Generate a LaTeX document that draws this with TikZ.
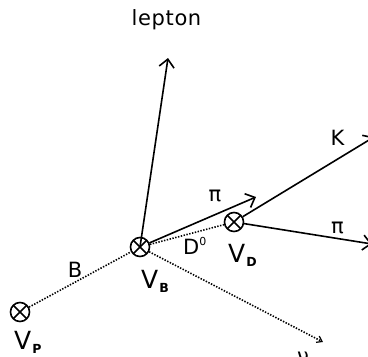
\documentclass[tikz,border=0pt]{standalone}
\usepackage{fontspec}
\setmainfont{DejaVu Sans}[LetterSpace=3]
\usetikzlibrary{arrows.meta}
\newcommand\vlab[1]{{\fontsize{25}{28}\selectfont V}\kern1pt\raisebox{-4pt}{\fontsize{12.5}{14}\selectfont\bfseries #1}}
\tikzset{
  vtx/.style={circle, draw, line width=1.6pt, minimum size=19pt, inner sep=0pt,
    path picture={\draw[line width=1.6pt] (path picture bounding box.north west) -- (path picture bounding box.south east)
      (path picture bounding box.north east) -- (path picture bounding box.south west);}},
  track/.style={line width=1.6pt, -{Straight Barb[length=8pt,width=15pt,line width=1.6pt]}},
  flight/.style={line width=1.6pt, dash pattern=on 1.4pt off 1.5pt},
  lab/.style={font=\fontsize{21}{24}\selectfont, inner sep=0pt, anchor=base},
  vl/.style={inner sep=0pt, anchor=base west}
}
\begin{document}
\begin{tikzpicture}[x=1pt,y=-1pt]
\useasboundingbox (0,0) rectangle (368,357);
\clip (0,0) rectangle (368,357);
% vertices
\node[vtx] (VP) at (20,312) {};
\node[vtx] (VB) at (140,247) {};
\node[vtx] (VD) at (234,222) {};
% free ends
\coordinate (lep) at (168,58);
\coordinate (pi1) at (256,197);
\coordinate (Kend) at (374,137);
\coordinate (pi2) at (372,244);
\coordinate (nu) at (323,342);
% flight paths
\draw[flight] (VP) -- (VB);
\draw[flight] (VB) -- (VD);
\draw[flight, -{Straight Barb[length=5pt,width=7pt,line width=1.2pt]}] (VB) -- (nu);
% tracks
\draw[track] (VB.center) -- (lep);
\draw[track] (VB) -- (pi1);
\draw[track] (VD) -- (Kend);
\draw[track] (VD) -- (pi2);
% labels
\node[lab] (tlep) at (166.5,25) {lepton};
\node[lab] (tpi1) at (215,201) {π};
\node[lab] (tK) at (337.5,145) {K};
\node[lab] (tpi2) at (337.5,233) {π};
\node[lab] (tB) at (75,277) {B};
\node[lab, anchor=base west] (tD) at (183,254) {D\raisebox{9pt}{\fontsize{11}{12}\selectfont 0}};
\node[lab] (tnu) at (303,363) {ν};
\node[vl] (tVB) at (141,288) {\vlab{B}};
\node[vl] (tVD) at (228,262) {\vlab{D}};
\node[vl] (tVP) at (14,349) {\vlab{P}};
\end{tikzpicture}
\end{document}
